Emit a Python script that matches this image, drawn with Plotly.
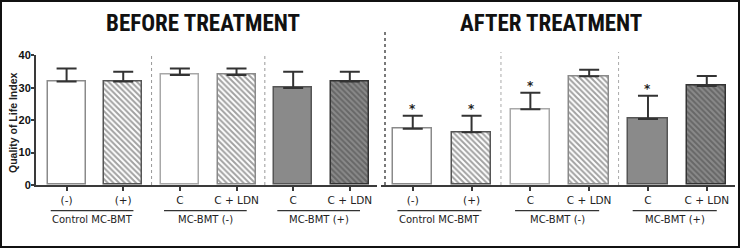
import plotly.graph_objects as go

# ---------------- data ----------------
tick_labels = ["(-)", "(+)", "C", "C + LDN", "C", "C + LDN"]
group_labels = ["Control MC-BMT", "MC-BMT (-)", "MC-BMT (+)"]
group_members = [[0, 1], [2, 3], [4, 5]]

before_mean = [32, 32, 34, 34, 30, 32]
before_err = [4, 3, 2, 2, 5, 3]

after_mean = [17.4, 16.3, 23.4, 33.6, 20.4, 30.6]
after_err = [4.0, 5.1, 5.1, 2.0, 7.2, 3.1]
after_sig = [True, True, True, False, True, False]

panel_titles = ["BEFORE TREATMENT", "AFTER TREATMENT"]
y_title = "Quality of Life Index"
y_ticks = [0, 10, 20, 30, 40]

# ---------------- styles ----------------
W, H = 740, 248
fills = ["#ffffff", "#ffffff", "#ffffff", "#ffffff", "#8a8a8a", "#8a8a8a"]
outlines = ["#8a8a8a", "#555555", "#a8a8a8", "#8a8a8a", "#555555", "#333333"]
pat_shape = ["", "\\", "", "\\", "", "\\"]
pat_fg = ["#000", "#555555", "#000", "#9a9a9a", "#000", "#222222"]

def py(p):  # pixel y -> paper
    return (H - p) / H

def px(p):  # pixel x -> paper
    return p / W

x_pos = list(range(len(tick_labels)))

fig = go.Figure()

for xa, ya, means, errs in [("x", "y", before_mean, before_err),
                            ("x2", "y2", after_mean, after_err)]:
    fig.add_trace(go.Bar(
        x=x_pos, y=means, xaxis=xa, yaxis=ya, width=0.67,
        marker=dict(color=fills, line=dict(color=outlines, width=1.5),
                    pattern=dict(shape=pat_shape, fgcolor=pat_fg, bgcolor=fills,
                                 size=4, solidity=0.5)),
        error_y=dict(type="data", symmetric=False, array=errs,
                     arrayminus=[0] * len(errs), color="#333333",
                     thickness=2, width=10),
        showlegend=False, hoverinfo="skip"))

y_top = 40.3
ppu = 129.5 / 40
ydom = [py(185), py(185 - y_top * ppu)]
axis_common = dict(showgrid=False, zeroline=False, showline=True, automargin=False,
                   linecolor="#3a3a3a", linewidth=2, ticks="outside",
                   tickwidth=1.5, tickcolor="#3a3a3a")

fig.update_layout(
    width=W, height=H, margin=dict(l=0, r=0, t=0, b=0, autoexpand=False),
    paper_bgcolor="white", plot_bgcolor="white", bargap=0,
    xaxis=dict(domain=[px(36), px(377)], range=[-0.54, 5.48], ticklen=4,
               tickvals=x_pos, ticktext=tick_labels,
               tickfont=dict(family="DejaVu Sans", size=10.5, color="#222"),
               **axis_common),
    xaxis2=dict(domain=[px(381), px(735)], range=[-0.54, 5.48], ticklen=4,
                tickvals=x_pos, ticktext=tick_labels,
                tickfont=dict(family="DejaVu Sans", size=10.5, color="#222"),
                **axis_common),
    yaxis=dict(domain=ydom, range=[0, y_top], tickvals=y_ticks, ticklen=3,
               ticktext=[str(v) for v in y_ticks], ticklabelstandoff=-2,
               tickfont=dict(family="Liberation Sans", size=11, color="#111",
                             weight="bold"),
               anchor="x", **axis_common),
    yaxis2=dict(domain=ydom, range=[0, y_top], anchor="x2", visible=False),
)

shapes = []
annotations = []

# y axis title
annotations.append(dict(text="<b>" + y_title + "</b>", xref="paper", yref="paper",
                        x=px(13), y=py(123), xanchor="center", yanchor="middle",
                        textangle=-90, showarrow=False,
                        font=dict(family="Liberation Sans", size=10.5, color="#222")))

# panel titles
for t, cx in zip(panel_titles, [203, 551]):
    annotations.append(dict(text="<b>" + t + "</b>", xref="paper", yref="paper",
                            x=px(cx), y=py(23), xanchor="center", yanchor="middle",
                            showarrow=False,
                            font=dict(family="Liberation Sans Narrow, Roboto Condensed, DejaVu Sans Condensed, Roboto",
                                      size=23, color="#111")))

# group underlines + labels
for xa, off0, off1 in [("x", -0.28, 1.18), ("x2", -0.26, 1.17)]:
    for lab, mem in zip(group_labels, group_members):
        x0 = mem[0] + off0
        x1 = mem[0] + off1
        shapes.append(dict(type="line", xref=xa, yref="paper", x0=x0, x1=x1,
                           y0=py(210.7), y1=py(210.7),
                           line=dict(color="#333", width=1.2)))
        annotations.append(dict(text=lab, xref=xa, yref="paper", x=(x0 + x1) / 2,
                                y=py(219.5), xanchor="center", yanchor="middle",
                                showarrow=False,
                                font=dict(family="DejaVu Sans", size=10, color="#222")))

# separators
for xs in [1.5, 3.5]:
    shapes.append(dict(type="line", xref="x", yref="paper", x0=xs, x1=xs,
                       y0=py(185), y1=py(55), line=dict(color="#999", width=1, dash="dot")))
    shapes.append(dict(type="line", xref="x2", yref="paper", x0=xs, x1=xs,
                       y0=py(185), y1=py(52), line=dict(color="#aaa", width=1, dash="dot")))
shapes.append(dict(type="line", xref="paper", yref="paper", x0=px(385), x1=px(385),
                   y0=py(185), y1=py(32), line=dict(color="#333", width=1.3, dash="dot")))

# stars
for i, (m, e, s) in enumerate(zip(after_mean, after_err, after_sig)):
    if s:
        annotations.append(dict(text="<b>*</b>", xref="x2", yref="y2", x=i, y=m + e,
                                xanchor="center", yanchor="bottom", yshift=-2,
                                showarrow=False,
                                font=dict(family="DejaVu Sans", size=12, color="#222")))

# outer frame
shapes.append(dict(type="rect", xref="paper", yref="paper", x0=0, x1=1, y0=0, y1=1,
                   line=dict(color="#111", width=4)))

fig.update_layout(shapes=shapes, annotations=annotations)
fig.write_html("out.html", config={"displayModeBar": False},
               post_script="document.body.style.margin='0';document.body.style.padding='0';document.body.style.overflow='hidden';")
